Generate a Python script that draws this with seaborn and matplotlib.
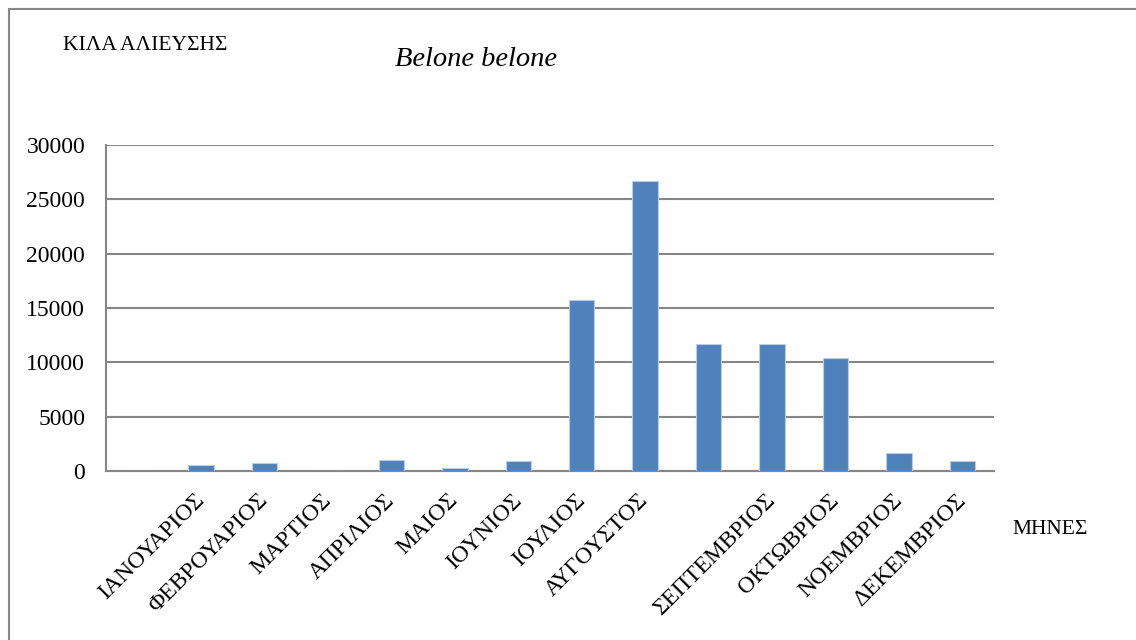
import matplotlib.pyplot as plt
import pandas as pd
import seaborn as sns
from matplotlib.lines import Line2D

# month labels as they sit under the bars (two slots carry no label)
month_labels = ['', 'ΙΑΝΟΥΑΡΙΟΣ', 'ΦΕΒΡΟΥΑΡΙΟΣ', 'ΜΑΡΤΙΟΣ', 'ΑΠΡΙΛΙΟΣ', 'ΜΑΙΟΣ',
                'ΙΟΥΝΙΟΣ', 'ΙΟΥΛΙΟΣ', 'ΑΥΓΟΥΣΤΟΣ', '', 'ΣΕΠΤΕΜΒΡΙΟΣ',
                'ΟΚΤΩΒΡΙΟΣ', 'ΝΟΕΜΒΡΙΟΣ', 'ΔΕΚΕΜΒΡΙΟΣ']
kilos = [0, 550, 700, 0, 980, 250, 920, 15770, 26650, 11650, 11650, 10370, 1690, 960]
y_ticks = [0, 5000, 10000, 15000, 20000, 25000, 30000]

grey = '#878787'
bar_color = '#4F81BD'

sns.set_style('white')
plt.rcParams['font.family'] = ['Liberation Serif', 'DejaVu Serif']
plt.rcParams['text.color'] = 'black'
plt.rcParams['xtick.color'] = 'black'
plt.rcParams['ytick.color'] = 'black'

df = pd.DataFrame({'slot': range(len(kilos)), 'kilos': kilos})

fig = plt.figure(figsize=(11.36, 6.4), dpi=100)
ax = fig.add_axes([106 / 1136, 1 - 471 / 640, 888 / 1136, 326 / 640])

sns.barplot(data=df, x='slot', y='kilos', color=bar_color, width=0.4,
            edgecolor='#B9CDE5', linewidth=0.8, saturation=1, ax=ax, zorder=3)

ax.set_xlim(-0.5, len(kilos) - 0.5)
ax.set_ylim(0, 30000)
ax.set_yticks(y_ticks)
ax.set_yticklabels([str(v) for v in y_ticks], fontsize=17)
ax.yaxis.grid(True, color=grey, linewidth=1.5, zorder=0)
ax.set_axisbelow(True)

ax.set_xticks(range(len(kilos)))
ax.set_xticklabels(month_labels, rotation=45, ha='right', va='center',
                   rotation_mode='anchor', fontsize=17)
ax.set_xticks([i - 0.5 for i in range(len(kilos) + 1)], minor=True)
ax.tick_params(axis='x', which='major', length=0, pad=19)
ax.tick_params(axis='x', which='minor', length=5, width=1.5, color=grey, direction='out')
ax.tick_params(axis='y', length=6, width=1.5, color=grey, direction='out', pad=9)

ax.set_xlabel('')
ax.set_ylabel('')
for side in ['top', 'right']:
    ax.spines[side].set_visible(False)
for side in ['left', 'bottom']:
    ax.spines[side].set_color(grey)
    ax.spines[side].set_linewidth(1.5)

fig.text(63 / 1136, 1 - 45 / 640, 'ΚΙΛΑ ΑΛΙΕΥΣΗΣ', fontsize=15.5, va='center', ha='left')
fig.text(476 / 1136, 1 - 60 / 640, 'Belone belone', fontsize=20.5, style='italic',
         va='center', ha='center')
fig.text(1012 / 1136, 1 - 530 / 640, 'ΜΗΝΕΣ', fontsize=15.5, va='center', ha='left')

# outer chart frame (left and top edges visible)
fig.add_artist(Line2D([8.5 / 1136, 8.5 / 1136], [0, 1 - 8.5 / 640], color=grey, linewidth=1.5))
fig.add_artist(Line2D([8.5 / 1136, 1], [1 - 8.5 / 640, 1 - 8.5 / 640], color=grey, linewidth=1.5))

fig.savefig('out.png', dpi=100)
